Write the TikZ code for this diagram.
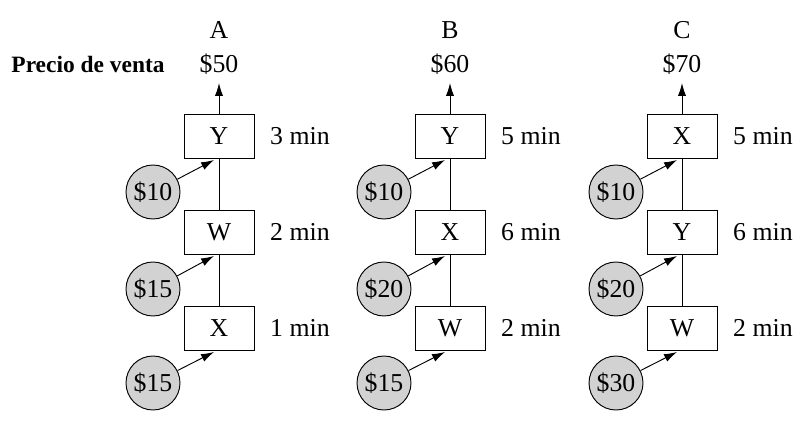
\documentclass[tikz,border=0pt]{standalone}
\usepackage{fontspec}
\setmainfont{Liberation Serif}
\usetikzlibrary{arrows.meta}
\begin{document}
\begin{tikzpicture}[x=0.03cm,y=-0.03cm,
  box/.style={draw,thick,minimum width=70*0.03cm,minimum height=44*0.03cm,inner sep=0pt,font=\fontsize{22}{25}\selectfont},
  cost/.style={draw,thick,circle,fill=gray!35,minimum size=54*0.03cm,inner sep=0pt,font=\fontsize{22}{25}\selectfont},
  lbl/.style={font=\fontsize{22}{25}\selectfont,inner sep=0pt},
  arr/.style={thick,-{Latex[length=11pt,width=7pt]}}]
\useasboundingbox (0,0) rectangle (808,425);
\node[lbl,font=\fontsize{20}{23}\selectfont\bfseries] (pv) at (88,64) {Precio de venta};
\foreach \n/\cx/\h/\p/\ba/\bb/\bc/\ta/\tb/\tc/\ca/\cb/\cc in
 {A/219/A/\$50/Y/W/X/3 min/2 min/1 min/\$10/\$15/\$15,
  B/450/B/\$60/Y/X/W/5 min/6 min/2 min/\$10/\$20/\$15,
  C/682/C/\$70/X/Y/W/5 min/6 min/2 min/\$10/\$20/\$30}{
  \node[lbl] (h\n) at (\cx,30) {\h};
  \node[lbl] (p\n) at (\cx,64) {\p};
  \node[box] (b1\n) at (\cx,136) {\ba};
  \node[box] (b2\n) at (\cx,232) {\bb};
  \node[box] (b3\n) at (\cx,328) {\bc};
  \node[lbl,anchor=west] (t1\n) at (\cx+51,136) {\ta};
  \node[lbl,anchor=west] (t2\n) at (\cx+51,232) {\tb};
  \node[lbl,anchor=west] (t3\n) at (\cx+51,328) {\tc};
  \coordinate (top\n) at (\cx,83);
  \draw[arr] (b1\n.north) -- (top\n);
  \draw[thick] (b1\n) -- (b2\n) (b2\n) -- (b3\n);
  \node[cost] (c1\n) at (\cx-66,192) {\ca};
  \node[cost] (c2\n) at (\cx-66,289) {\cb};
  \node[cost] (c3\n) at (\cx-66,383) {\cc};
  \coordinate (e1\n) at (\cx-5,160);
  \coordinate (e2\n) at (\cx-5,256);
  \coordinate (e3\n) at (\cx-5,352);
  \draw[arr] (c1\n) -- (e1\n);
  \draw[arr] (c2\n) -- (e2\n);
  \draw[arr] (c3\n) -- (e3\n);
}
\end{tikzpicture}
\end{document}
